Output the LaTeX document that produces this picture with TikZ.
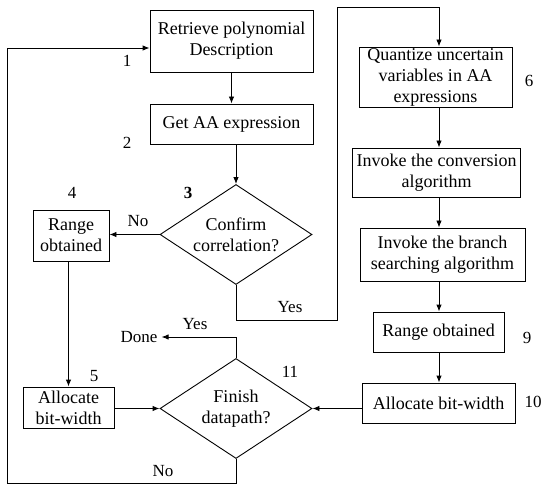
\documentclass[tikz,border=0pt]{standalone}
\usepackage{fontspec}
\setmainfont{Liberation Serif}
\usetikzlibrary{arrows.meta,shapes.geometric}
\begin{document}
\begin{tikzpicture}[x=1pt,y=-1pt,
  font=\fontsize{18}{21}\selectfont,
  box/.style={draw,line width=0.9pt,inner sep=0pt,align=center,rectangle},
  dia/.style={draw,line width=0.9pt,diamond,aspect=1.52,inner sep=0pt,minimum width=152pt,minimum height=100pt},
  txt/.style={inner sep=0pt,align=center},
  lab/.style={inner sep=0pt,font=\fontsize{17}{20}\selectfont},
  arr/.style={line width=0.9pt,-{Latex[length=7pt,width=5.5pt]}}]
\useasboundingbox (0,0) rectangle (542,487);
% left column
\node[box,minimum width=163pt,minimum height=62pt] (b1) at (231.5,41) {Retrieve polynomial\\Description};
\node[box,minimum width=163pt,minimum height=40pt] (b2) at (231.5,124) {Get AA expression};
\node[dia] (d3) at (236,234.5) {};
\node[txt] (d3t) at (d3.center) {Confirm\\correlation?};
\node[box,minimum width=76pt,minimum height=51pt] (b4) at (71,235.5) {Range\\obtained};
\node[box,minimum width=91pt,minimum height=41pt] (b5) at (68.5,407.5) {Allocate\\bit-width};
\node[dia] (d11) at (236,408.5) {};
\node[txt] (d11t) at (d11.center) {Finish\\datapath?};
% right column
\node[box,minimum width=153pt,minimum height=60pt] (b6) at (435.5,77) {Quantize uncertain\\variables in AA\\expressions};
\node[box,minimum width=168pt,minimum height=49pt] (b7) at (436.7,172.5) {Invoke the conversion\\algorithm};
\node[box,minimum width=165pt,minimum height=53pt] (b8) at (442.5,254.5) {Invoke the branch\\searching algorithm};
\node[box,minimum width=131pt,minimum height=40pt] (b9) at (438.5,332) {Range obtained};
\node[box,minimum width=153pt,minimum height=40pt] (b10) at (438.5,403) {Allocate bit-width};
\node[lab] (done) at (139,337) {Done};
% number labels
\node[lab] (n1) at (127,61) {1};
\node[lab] (n2) at (127,143) {2};
\node[lab,font=\fontsize{17}{20}\selectfont\bfseries] (n3) at (188,193) {3};
\node[lab] (n4) at (72,193) {4};
\node[lab] (n5) at (94,376) {5};
\node[lab] (n6) at (529,81) {6};
\node[lab] (n9) at (527,338) {9};
\node[lab] (n10) at (533,402) {10};
\node[lab] (n11) at (290,372) {11};
% branch labels
\node[lab] (no1) at (138,221) {No};
\node[lab] (yes1) at (290,307) {Yes};
\node[lab] (yes2) at (195,324) {Yes};
\node[lab] (no2) at (163,471) {No};
% helper coordinates
\coordinate (col) at (439,0);
\coordinate (y1) at (0,320);
\coordinate (xr) at (337,0);
\coordinate (yt) at (0,7);
\coordinate (yb) at (0,483);
\coordinate (xl) at (7,0);
\coordinate (yin) at (0,48);
\coordinate (ydone) at (0,337);
% connectors
\draw[arr] (b1) -- (b2);
\draw[arr] (b2.south -| d3.north) -- (d3.north);
\draw[arr] (d3.west) -- (b4.east |- d3.west);
\draw[arr] (b4.south -| b5.north) -- (b5.north);
\draw[arr] (b5.east |- d11.west) -- (d11.west);
\draw[arr] (d3.south) -- (d3.south |- y1) -- (xr |- y1) -- (xr |- yt) -- (col |- yt) -- (col |- b6.north);
\draw[arr] (b6.south -| col) -- (b7.north -| col);
\draw[arr] (b7.south -| col) -- (b8.north -| col);
\draw[arr] (b8.south -| col) -- (b9.north -| col);
\draw[arr] (b9.south -| col) -- (b10.north -| col);
\draw[arr] (b10.west |- d11.east) -- (d11.east);
\draw[arr] (d11.north) -- (d11.north |- ydone) -- ([xshift=4pt]done.east);
\draw[arr] (d11.south) -- (d11.south |- yb) -- (xl |- yb) -- (xl |- yin) -- (b1.west |- yin);
\end{tikzpicture}
\end{document}
